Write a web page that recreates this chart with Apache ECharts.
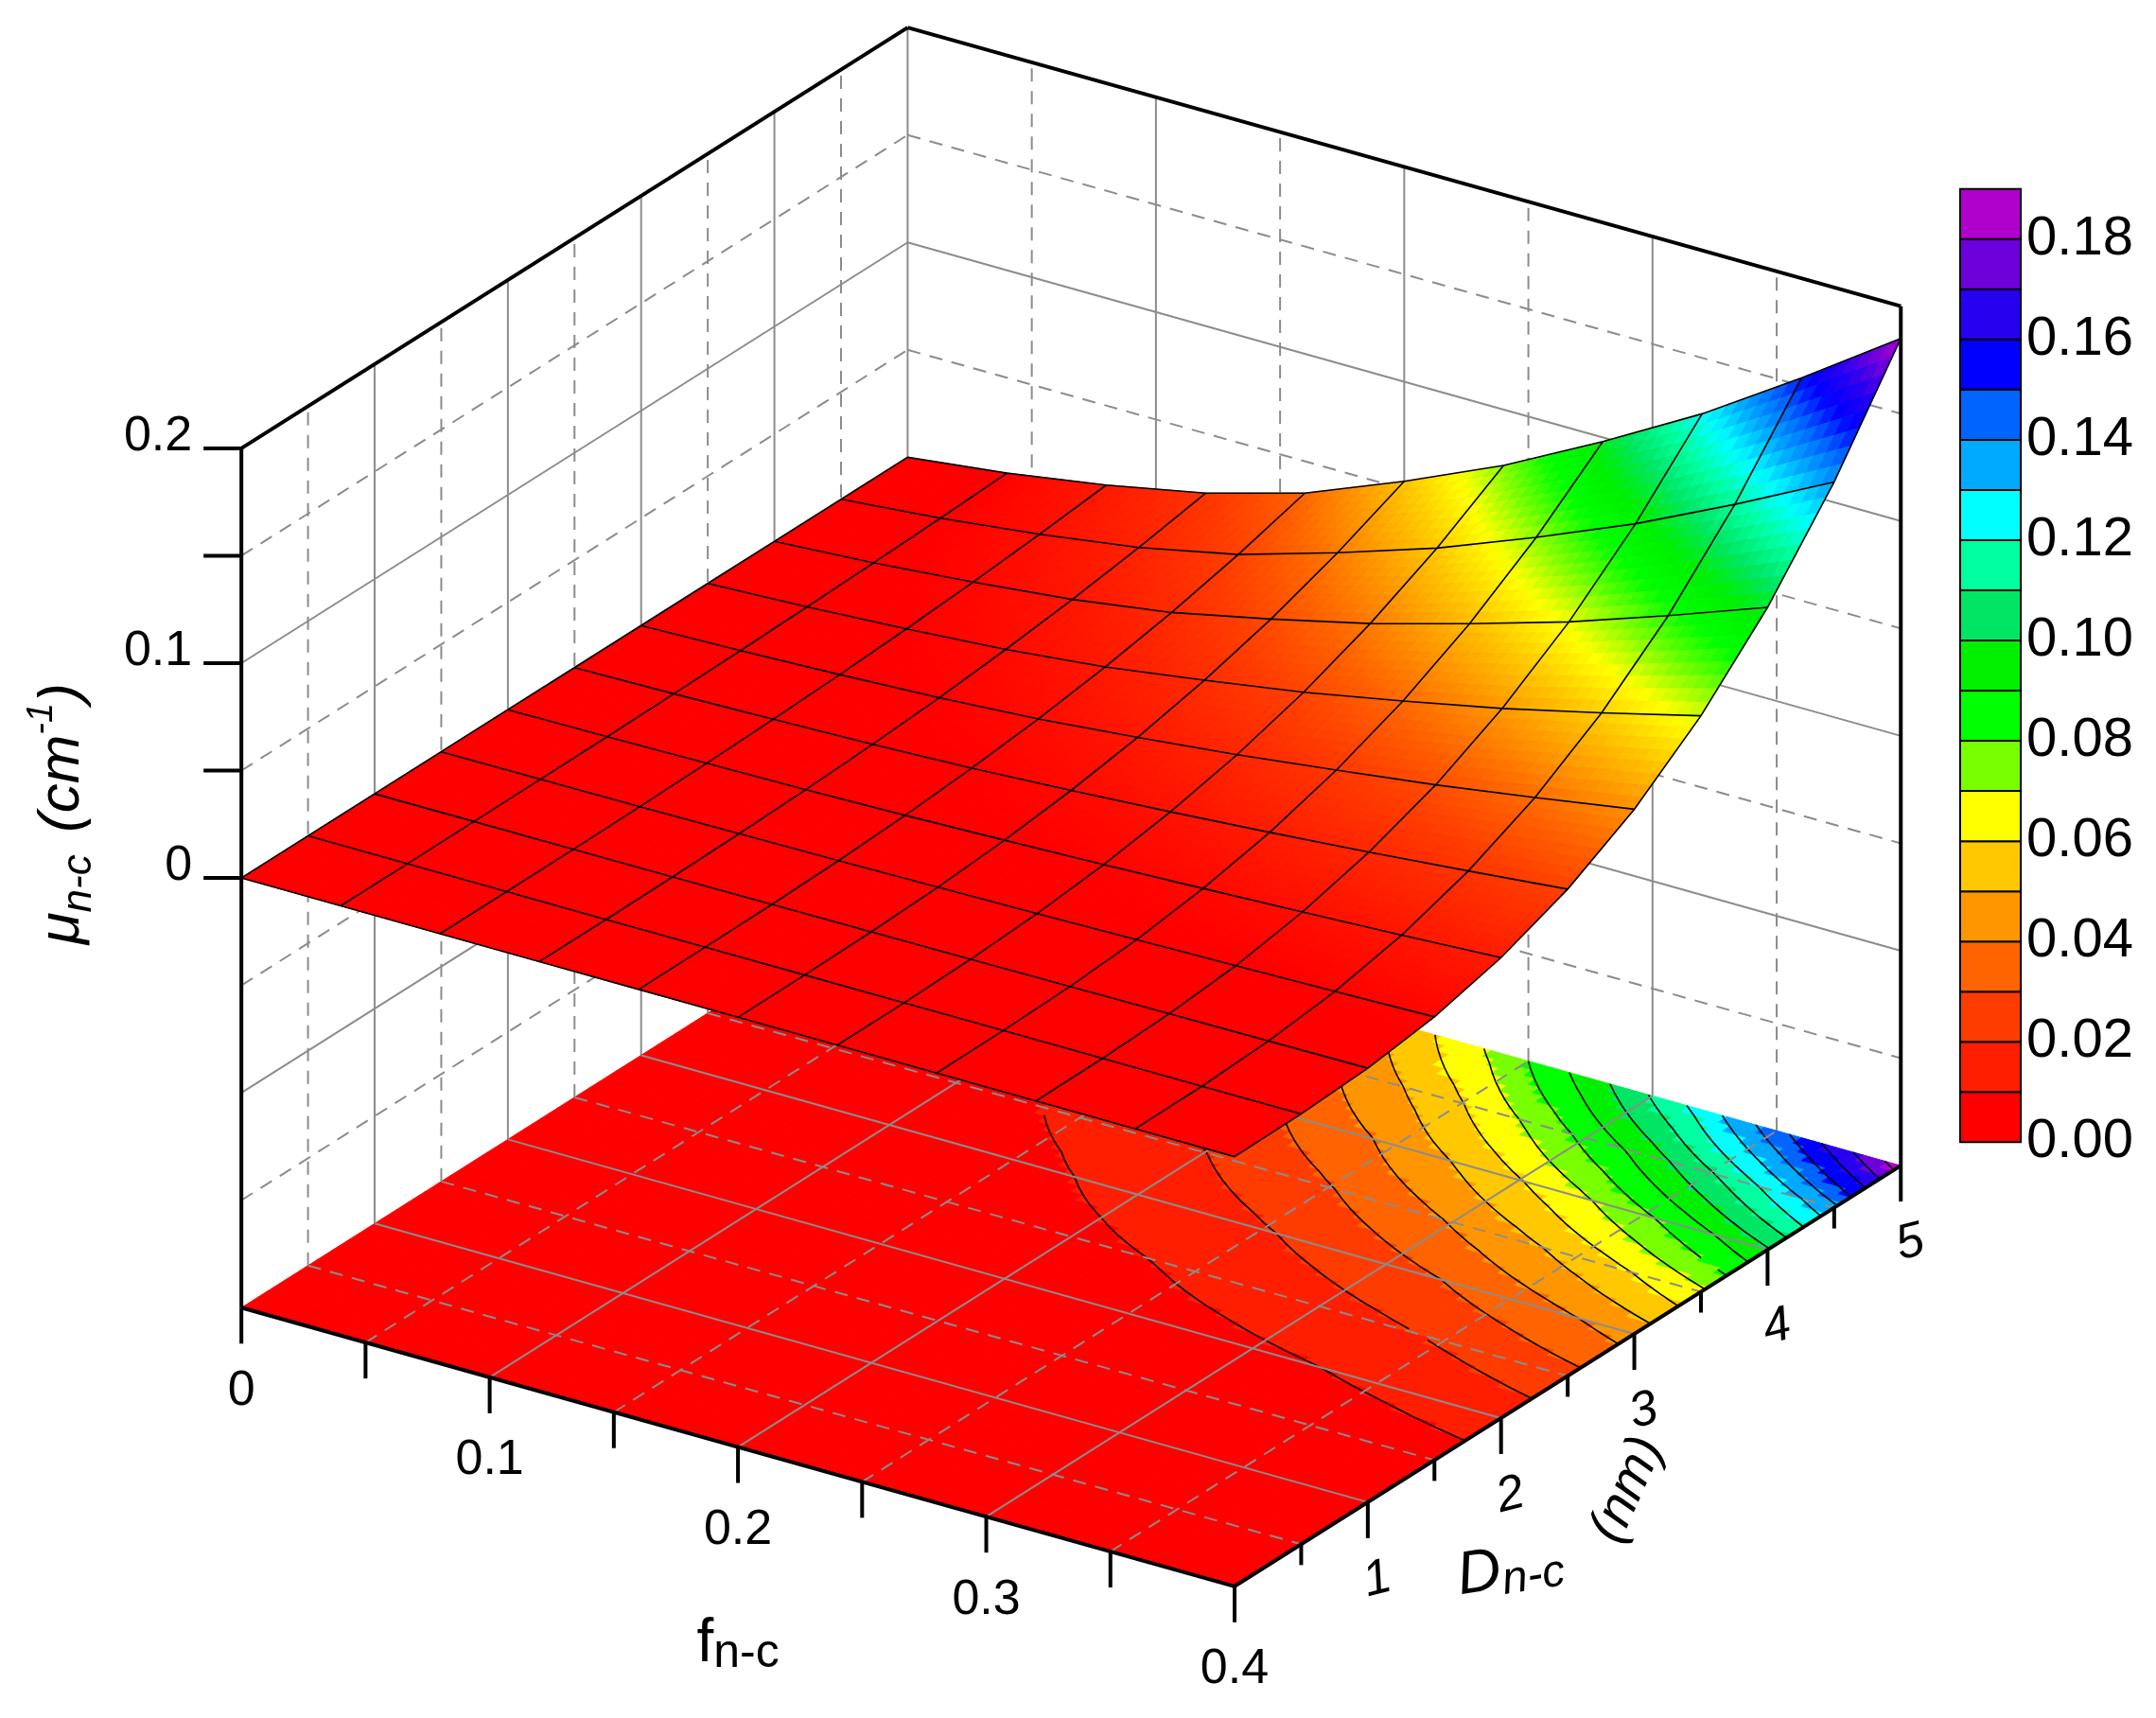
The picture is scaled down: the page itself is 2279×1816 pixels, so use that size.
<!DOCTYPE html>
<html>
<head>
<meta charset="utf-8">
<script src="https://cdn.jsdelivr.net/npm/echarts@6/dist/echarts.min.js"></script>
<style>
  html, body { margin: 0; padding: 0; background: #fff; }
  #chart { width: 2279px; height: 1816px; }
</style>
</head>
<body>
<div id="chart"></div>
<script>
// grid of the surface: f along columns, D along rows
const fValues = [0, 0.04, 0.08, 0.12, 0.16, 0.2, 0.24, 0.28, 0.32, 0.36, 0.4];
const dValues = [0, 0.5, 1, 1.5, 2, 2.5, 3, 3.5, 4, 4.5, 5];
// mu(n-c) in cm-1, one row per D value
const muRows = [
  [0, 0, 0, 0, 0, 0, 0, 0, 0, 0, 0],
  [0, 0.0000, 0.0000, 0.0000, 0.0001, 0.0001, 0.0001, 0.0002, 0.0002, 0.0002, 0.0003],
  [0, 0.0001, 0.0001, 0.0002, 0.0004, 0.0006, 0.0008, 0.0011, 0.0014, 0.0017, 0.0020],
  [0, 0.0002, 0.0004, 0.0008, 0.0012, 0.0018, 0.0025, 0.0033, 0.0042, 0.0052, 0.0063],
  [0, 0.0004, 0.0010, 0.0017, 0.0027, 0.0041, 0.0057, 0.0076, 0.0096, 0.0118, 0.0143],
  [0, 0.0008, 0.0019, 0.0032, 0.0051, 0.0077, 0.0107, 0.0141, 0.0179, 0.0221, 0.0266],
  [0, 0.0013, 0.0031, 0.0053, 0.0084, 0.0128, 0.0177, 0.0235, 0.0296, 0.0367, 0.0442],
  [0, 0.0021, 0.0048, 0.0082, 0.0130, 0.0198, 0.0272, 0.0361, 0.0456, 0.0565, 0.0681],
  [0, 0.0030, 0.0070, 0.0119, 0.0188, 0.0287, 0.0396, 0.0525, 0.0663, 0.0822, 0.0990],
  [0, 0.0042, 0.0097, 0.0165, 0.0262, 0.0400, 0.0551, 0.0731, 0.0924, 0.1144, 0.1378],
  [0, 0.0056, 0.0130, 0.0222, 0.0352, 0.0537, 0.0740, 0.0981, 0.1240, 0.1536, 0.1850]
];
const zTicks = [0, 0.1, 0.2];
const fTicks = [0, 0.1, 0.2, 0.3, 0.4];
const dTicks = [1, 2, 3, 4, 5];
const levelStep = 0.01;
const levelColors = ['#ff0000', '#ff1e00', '#ff3c00', '#ff6400', '#ff9600', '#ffc800', '#ffff00',
  '#78ff00', '#00ff00', '#00f000', '#00e664', '#00ffa0', '#00ffff', '#00aaff', '#0064ff',
  '#0000ff', '#2800f0', '#6e00dc', '#b000cc'];
const barLabels = ['0.00', '0.02', '0.04', '0.06', '0.08', '0.10', '0.12', '0.14', '0.16', '0.18'];

const S = 2279 / 1563;
const FONT = 'Liberation Sans';
const F_MAX = 0.4, D_MAX = 5, Z_MIN = -0.2, Z_MAX = 0.2;

// oblique box projection
function proj(f, d, z) {
  const u = f / F_MAX, v = d / D_MAX, w = (z - Z_MIN) / (Z_MAX - Z_MIN);
  return [S * (175 + 720 * u + 483 * v), S * (948 + 202 * u - 305 * v - 623 * w)];
}
// value at fractional grid index (bilinear between read values)
function valAt(gi, gj) {
  const n = fValues.length - 1;
  const i0 = Math.min(Math.floor(gi), n - 1), j0 = Math.min(Math.floor(gj), n - 1);
  const a = gi - i0, b = gj - j0;
  return (1 - a) * (1 - b) * muRows[j0][i0] + a * (1 - b) * muRows[j0][i0 + 1] +
    (1 - a) * b * muRows[j0 + 1][i0] + a * b * muRows[j0 + 1][i0 + 1];
}
function fAt(gi) { return fValues[0] + gi * (fValues[1] - fValues[0]); }
function dAt(gj) { return dValues[0] + gj * (dValues[1] - dValues[0]); }

function hex(c) { return [parseInt(c.slice(1, 3), 16), parseInt(c.slice(3, 5), 16), parseInt(c.slice(5, 7), 16)]; }
const rgbLevels = levelColors.map(hex);
function smoothColor(v) {
  let t = v / levelStep - 0.5;
  if (t <= 0) return levelColors[0];
  if (t >= rgbLevels.length - 1) return levelColors[rgbLevels.length - 1];
  const k = Math.floor(t), a = t - k;
  const c = rgbLevels[k].map((x, q) => Math.round(x + (rgbLevels[k + 1][q] - x) * a));
  return 'rgb(' + c.join(',') + ')';
}
function bandColor(v) {
  return levelColors[Math.max(0, Math.min(levelColors.length - 1, Math.floor(v / levelStep)))];
}

function line(p, q, style) {
  return { type: 'line', shape: { x1: p[0], y1: p[1], x2: q[0], y2: q[1] }, style: style, silent: true };
}
const solid = { stroke: '#8c8c8c', lineWidth: 2 };
const dashed = { stroke: '#8c8c8c', lineWidth: 2, lineDash: [14, 10] };
const axisStyle = { stroke: '#000', lineWidth: 4 };

function renderAll(params, api) {
  const ch = [];
  const n = fValues.length - 1;

  // back walls: left wall (f = 0) and back wall (D = 5)
  for (let d = 0.5; d < D_MAX; d += 0.5) {
    ch.push(line(proj(0, d, Z_MIN), proj(0, d, Z_MAX), d % 1 === 0 ? solid : dashed));
  }
  for (let f = 0.05; f < F_MAX - 1e-9; f += 0.05) {
    const major = Math.abs(f * 10 - Math.round(f * 10)) < 1e-6;
    ch.push(line(proj(f, D_MAX, Z_MIN), proj(f, D_MAX, Z_MAX), major ? solid : dashed));
  }
  for (let z = -0.15; z < Z_MAX - 1e-9; z += 0.05) {
    const major = Math.abs(z * 10 - Math.round(z * 10)) < 1e-6;
    ch.push(line(proj(0, 0, z), proj(0, D_MAX, z), major ? solid : dashed));
    ch.push(line(proj(0, D_MAX, z), proj(F_MAX, D_MAX, z), major ? solid : dashed));
  }
  ch.push(line(proj(0, D_MAX, Z_MIN), proj(0, D_MAX, Z_MAX), solid));

  // floor: filled contour
  const N = 80;
  const st = n / N;
  for (let b = 0; b < N; b++) {
    for (let a = 0; a < N; a++) {
      const gi = a * st, gj = b * st;
      const v = valAt(gi + st / 2, gj + st / 2);
      const pts = [[gi, gj], [gi + st, gj], [gi + st, gj + st], [gi, gj + st]]
        .map(p => proj(fAt(p[0]), dAt(p[1]), Z_MIN));
      const c = bandColor(v);
      ch.push({ type: 'polygon', shape: { points: pts }, style: { fill: c, stroke: c, lineWidth: 1 }, silent: true });
    }
  }
  // contour lines by marching squares
  let path = '';
  for (let L = levelStep; L < 0.19; L += levelStep) {
    for (let b = 0; b < N; b++) {
      for (let a = 0; a < N; a++) {
        const gi = a * st, gj = b * st;
        const cs = [[gi, gj], [gi + st, gj], [gi + st, gj + st], [gi, gj + st]];
        const vs = cs.map(p => valAt(p[0], p[1]));
        const cross = [];
        for (let e = 0; e < 4; e++) {
          const p = cs[e], q = cs[(e + 1) % 4], vp = vs[e], vq = vs[(e + 1) % 4];
          if ((vp - L) * (vq - L) < 0) {
            const t = (L - vp) / (vq - vp);
            cross.push(proj(fAt(p[0] + (q[0] - p[0]) * t), dAt(p[1] + (q[1] - p[1]) * t), Z_MIN));
          }
        }
        for (let k = 0; k + 1 < cross.length; k += 2) {
          path += 'M' + cross[k][0].toFixed(1) + ' ' + cross[k][1].toFixed(1) +
            'L' + cross[k + 1][0].toFixed(1) + ' ' + cross[k + 1][1].toFixed(1);
        }
      }
    }
  }
  ch.push({ type: 'path', shape: { pathData: path }, style: { fill: null, stroke: '#000', lineWidth: 1.6 }, silent: true });

  // floor grid
  for (let d = 0.5; d < D_MAX; d += 0.5) {
    ch.push(line(proj(0, d, Z_MIN), proj(F_MAX, d, Z_MIN), d % 1 === 0 ? solid : dashed));
  }
  for (let f = 0.05; f < F_MAX - 1e-9; f += 0.05) {
    const major = Math.abs(f * 10 - Math.round(f * 10)) < 1e-6;
    ch.push(line(proj(f, 0, Z_MIN), proj(f, D_MAX, Z_MIN), major ? solid : dashed));
  }

  // surface, back to front
  const M = 8;
  for (let j = n - 1; j >= 0; j--) {
    for (let i = 0; i < n; i++) {
      for (let sb = M - 1; sb >= 0; sb--) {
        for (let sa = 0; sa < M; sa++) {
          const gi = i + sa / M, gj = j + sb / M, h = 1 / M;
          const cs = [[gi, gj], [gi + h, gj], [gi + h, gj + h], [gi, gj + h]];
          const pts = cs.map(p => proj(fAt(p[0]), dAt(p[1]), valAt(p[0], p[1])));
          const c = smoothColor(valAt(gi + h / 2, gj + h / 2));
          ch.push({ type: 'polygon', shape: { points: pts }, style: { fill: c, stroke: c, lineWidth: 1 }, silent: true });
        }
      }
    }
  }
  // surface mesh
  for (let j = 0; j <= n; j++) {
    ch.push({ type: 'polyline', shape: { points: fValues.map((f, i) => proj(f, dValues[j], muRows[j][i])) },
      style: { stroke: '#000', lineWidth: 1.6, fill: null }, silent: true });
  }
  for (let i = 0; i <= n; i++) {
    ch.push({ type: 'polyline', shape: { points: dValues.map((d, j) => proj(fValues[i], d, muRows[j][i])) },
      style: { stroke: '#000', lineWidth: 1.6, fill: null }, silent: true });
  }

  // box frame
  ch.push(line(proj(0, 0, Z_MIN), proj(0, 0, Z_MAX), axisStyle));
  ch.push(line(proj(0, 0, Z_MAX), proj(0, D_MAX, Z_MAX), axisStyle));
  ch.push(line(proj(0, D_MAX, Z_MAX), proj(F_MAX, D_MAX, Z_MAX), axisStyle));
  ch.push(line(proj(F_MAX, D_MAX, Z_MAX), proj(F_MAX, D_MAX, Z_MIN), axisStyle));
  ch.push(line(proj(0, 0, Z_MIN), proj(F_MAX, 0, Z_MIN), axisStyle));
  ch.push(line(proj(F_MAX, 0, Z_MIN), proj(F_MAX, D_MAX, Z_MIN), axisStyle));

  const txt = { fill: '#000', fontFamily: FONT, fontSize: 52 };
  // z axis
  for (let z = 0; z <= 0.2 + 1e-9; z += 0.05) {
    const p = proj(0, 0, z);
    ch.push(line(p, [p[0] - 40, p[1]], axisStyle));
  }
  zTicks.forEach(z => {
    const p = proj(0, 0, z);
    ch.push({ type: 'text', x: p[0] - 52, y: p[1] - 12, style: Object.assign({ text: String(z), align: 'right', verticalAlign: 'middle' }, txt) });
  });
  // f axis
  for (let f = 0; f <= F_MAX + 1e-9; f += 0.05) {
    const p = proj(f, 0, Z_MIN);
    ch.push(line(p, [p[0], p[1] + 38], axisStyle));
  }
  fTicks.forEach(f => {
    const p = proj(f, 0, Z_MIN);
    ch.push({ type: 'text', x: p[0], y: p[1] + 88, style: Object.assign({ text: String(f), align: 'center', verticalAlign: 'middle' }, txt) });
  });
  // D axis
  for (let d = 0.5; d <= D_MAX; d += 0.5) {
    const p = proj(F_MAX, d, Z_MIN);
    ch.push(line(p, [p[0], p[1] + (d % 1 === 0 ? 38 : 22)], axisStyle));
  }
  dTicks.forEach(d => {
    const p = proj(F_MAX, d, Z_MIN);
    ch.push({ type: 'text', x: p[0] + 10, y: p[1] + 82, rotation: 0.25, style: Object.assign({ text: String(d), align: 'center', verticalAlign: 'middle', fontStyle: 'italic' }, txt) });
  });

  // axis titles
  ch.push({ type: 'text', x: S * 45, y: S * 590, rotation: Math.PI / 2, style: {
    text: '{i|μ}{s|n-c}       {i|(cm}{p|-1}{i|)}', align: 'center', verticalAlign: 'middle',
    rich: {
      i: { fontFamily: FONT, fontSize: 62, fontStyle: 'italic', fill: '#000', lineHeight: 70 },
      s: { fontFamily: FONT, fontSize: 44, fontStyle: 'italic', fill: '#000', verticalAlign: 'bottom', lineHeight: 60 },
      p: { fontFamily: FONT, fontSize: 38, fontStyle: 'italic', fill: '#000', verticalAlign: 'top', lineHeight: 80 }
    } } });
  ch.push({ type: 'text', x: S * 535, y: S * 1192, style: {
    text: '{i|f}{s|n-c}', align: 'center', verticalAlign: 'middle',
    rich: {
      i: { fontFamily: FONT, fontSize: 64, fill: '#000', lineHeight: 70 },
      s: { fontFamily: FONT, fontSize: 50, fill: '#000', verticalAlign: 'bottom', lineHeight: 50 }
    } } });
  ch.push({ type: 'text', x: S * 1095, y: S * 1138, rotation: 0.15, style: {
    text: '{i|D}{s|n-c}', align: 'center', verticalAlign: 'middle',
    rich: {
      i: { fontFamily: FONT, fontSize: 64, fontStyle: 'italic', fill: '#000', lineHeight: 70 },
      s: { fontFamily: FONT, fontSize: 48, fontStyle: 'italic', fill: '#000', verticalAlign: 'bottom', lineHeight: 50 }
    } } });
  ch.push({ type: 'text', x: S * 1180, y: S * 1080, rotation: 1.15, style: Object.assign({ text: '(nm)', align: 'center', verticalAlign: 'middle', fontStyle: 'italic' }, txt, { fontSize: 56 }) });

  // colour bar
  const bx = S * 1421, bw = S * 44, bTop = S * 137, bBot = S * 828;
  const bh = (bBot - bTop) / levelColors.length;
  levelColors.forEach((c, k) => {
    ch.push({ type: 'rect', shape: { x: bx, y: bBot - (k + 1) * bh, width: bw, height: bh },
      style: { fill: c, stroke: '#000', lineWidth: 2 }, silent: true });
  });
  barLabels.forEach((t, k) => {
    ch.push({ type: 'text', x: bx + bw + 6, y: bBot - k * 2 * bh, style: Object.assign({ text: t, align: 'left', verticalAlign: 'middle' }, txt, { fontSize: 58 }) });
  });

  return { type: 'group', children: ch };
}

const chart = echarts.init(document.getElementById('chart'));
chart.setOption({
  backgroundColor: '#fff',
  animation: false,
  series: [{ type: 'custom', coordinateSystem: 'none', data: [[0]], renderItem: renderAll }]
});
</script>
</body>
</html>
